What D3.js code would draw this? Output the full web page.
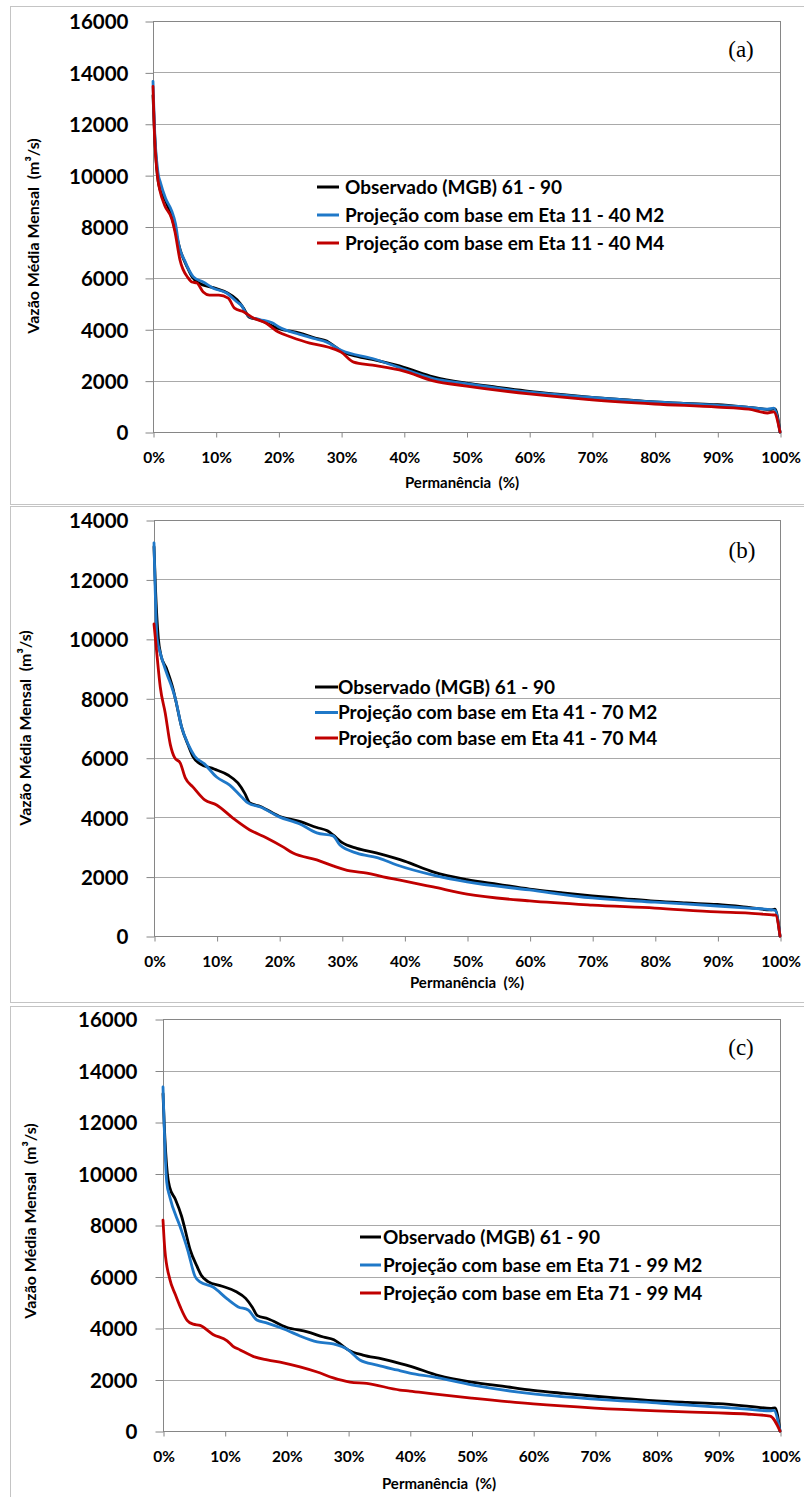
<!DOCTYPE html>
<html>
<head>
<meta charset="utf-8">
<title>Curvas de permanência</title>
<script src="https://cdn.jsdelivr.net/npm/d3@7"></script>
<style>
  body { margin: 0; background: #fff; }
  svg { display: block; }
  text { font-family: Lato, "Open Sans", sans-serif; font-weight: 700; fill: #000; white-space: pre; }
  .panelLabel { font-family: "Liberation Serif", "DejaVu Serif", serif; font-weight: 400; }
  .grid line { stroke: #a9a9a9; stroke-width: 1; }
  .axis path, .axis line { stroke: #868686; }
  .frame { fill: none; stroke: #c4c4c4; }
  .plotBorder { fill: none; stroke: #868686; }
  .serie { fill: none; stroke-width: 2.8; stroke-linejoin: round; stroke-linecap: round; }
</style>
</head>
<body>
<svg id="chart" width="804" height="1497"></svg>
<script>
// ---- data (permanência %, vazão m3/s) ----
// observed series is the same in all three panels
const observado = [[0,13100],[0.2,11900],[0.7,10000],[1.1,9450],[2,9000],[3,8350],[3.5,7900],[4.4,7040],
  [5.5,6400],[6.2,6050],[7.3,5800],[9.6,5620],[11.8,5420],[13.4,5150],[14.5,4800],[15.3,4480],[17,4360],
  [20,4030],[23.4,3850],[26,3650],[27.7,3540],[28.6,3400],[30,3150],[32.4,2950],[35.5,2800],[38.5,2620],
  [40,2520],[44.7,2150],[50,1900],[55,1740],[60,1580],[65,1460],[70,1350],[75,1260],[80,1170],[85,1110],
  [90,1060],[95,960],[98.5,880],[99.2,900],[100,0]];

const m2_1140 = [[0,13650],[0.2,12100],[0.8,10100],[1.2,9700],[2,9100],[3,8600],[3.6,8100],[4.1,7300],
  [5,6700],[6.4,6050],[8,5840],[9.6,5600],[11.8,5400],[13.4,5060],[14.2,4900],[14.7,4670],[15.5,4480],
  [17,4380],[19,4250],[20,4100],[23.4,3800],[26,3620],[27.7,3500],[30,3180],[35,2860],[39.4,2500],
  [44.7,2080],[50,1880],[60,1550],[70,1350],[80,1170],[90,1040],[95,960],[98,890],[99,930],[100,0]];
const m4_1140 = [[0,13450],[0.2,11800],[0.8,9800],[1.1,9400],[1.9,8800],[3,8300],[3.5,7800],[4.3,6700],
  [5.6,6000],[6.2,5840],[7,5800],[8,5450],[9,5330],[10.5,5330],[12,5210],[13,4820],[14.5,4670],[16,4440],
  [18,4240],[20,3890],[22,3700],[25,3460],[28,3300],[30,3110],[32,2720],[35,2600],[40,2370],[44.7,1990],
  [50,1790],[60,1480],[70,1250],[80,1090],[90,970],[95,890],[98,740],[99,780],[100,0]];

const m2_4170 = [[0,13230],[0.5,10000],[1,9530],[2,8860],[3,8280],[3.4,8000],[4.4,7040],[5.5,6430],
  [6.5,6050],[8,5800],[10,5350],[12.1,5080],[14,4680],[15,4480],[17,4340],[20,4010],[23.3,3770],[26,3470],
  [28.6,3370],[29.7,3060],[32.4,2790],[35.8,2630],[38.8,2390],[44.6,2050],[50,1820],[60,1550],[70,1280],
  [80,1140],[90,1010],[95,940],[98.7,880],[99.3,850],[100,0]];
const m4_4170 = [[0,10500],[0.5,9400],[1,8380],[1.8,7500],[2.6,6450],[3.3,6000],[4.2,5820],[5,5320],
  [6.2,5020],[8.1,4580],[10,4410],[12.6,3970],[15.3,3570],[18,3300],[20.6,3000],[22.2,2790],[26,2560],
  [28.6,2360],[31.3,2190],[34,2120],[36.6,1990],[39.3,1880],[44.6,1650],[50,1410],[60,1180],[70,1040],
  [80,940],[90,810],[95,770],[98.7,710],[99.3,700],[100,0]];

const m2_7199 = [[0,13360],[0.6,9670],[1.1,9090],[2.8,7920],[4,7030],[5.2,6000],[6,5790],[8.1,5590],
  [10.4,5130],[12.2,4820],[13.8,4700],[15.2,4310],[16.9,4190],[20,3920],[22.2,3690],[25,3460],[27.6,3380],
  [30,3150],[31.9,2760],[34.7,2560],[37.9,2370],[40,2250],[43.8,2100],[50,1790],[60,1440],[70,1240],
  [80,1090],[90,930],[94.6,850],[98.4,780],[99,800],[100,0]];
const m4_7199 = [[0,8190],[0.3,7030],[1.1,5900],[2,5300],[2.8,4820],[3.9,4300],[4.9,4150],[6,4100],
  [8.1,3750],[10.4,3500],[11.3,3300],[12.5,3150],[14.6,2900],[16.9,2760],[19.5,2650],[22.2,2490],[25,2290],
  [27.6,2060],[30.3,1900],[33,1850],[38.4,1590],[40,1550],[43.8,1440],[50,1280],[60,1050],[70,890],
  [80,780],[90,700],[94.6,660],[98.4,580],[100,0]];

const xTicks = [0, 10, 20, 30, 40, 50, 60, 70, 80, 90, 100];
const yTicks16 = [0, 2000, 4000, 6000, 8000, 10000, 12000, 14000, 16000];
const yTicks14 = [0, 2000, 4000, 6000, 8000, 10000, 12000, 14000];

const legendA = ["Observado (MGB) 61 - 90", "Projeção com base em Eta 11 - 40 M2", "Projeção com base em Eta 11 - 40 M4"];
const legendB = ["Observado (MGB) 61 - 90", "Projeção com base em Eta 41 - 70 M2", "Projeção com base em Eta 41 - 70 M4"];
const legendC = ["Observado (MGB) 61 - 90", "Projeção com base em Eta 71 - 99 M2", "Projeção com base em Eta 71 - 99 M4"];

const colours = ["#000000", "#1f78c8", "#c00000"];
const yTitle = "Vazão Média Mensal  (m³/s)";
const xTitle = "Permanência  (%)";

// ---- layout per panel ----
const panels = [
  { label: "(a)", series: [observado, m2_1140, m4_1140], legend: legendA, yTicks: yTicks16,
    frame: [10, 6, 820, 498], plot: { left: 153, top: 21, right: 780, bottom: 432 },
    yPad: 17, yTitle: [33, 236], xTitle: [462, 491], labelPos: [741, 57],
    leg: { x: 317, y: 187, gap: 28, len: 22, textX: 345 } },
  { label: "(b)", series: [observado, m2_4170, m4_4170], legend: legendB, yTicks: yTicks14,
    frame: [10, 506, 820, 496], plot: { left: 154, top: 520, right: 780, bottom: 936 },
    yPad: 18, yTitle: [25, 728], xTitle: [467, 991], labelPos: [742, 558],
    leg: { x: 315, y: 687, gap: 25.5, len: 23, textX: 338 } },
  { label: "(c)", series: [observado, m2_7199, m4_7199], legend: legendC, yTicks: yTicks16,
    frame: [10, 1006, 820, 520], plot: { left: 163, top: 1019, right: 780, bottom: 1431 },
    yPad: 18, yTitle: [30, 1221], xTitle: [439, 1492], labelPos: [741, 1055],
    leg: { x: 360, y: 1237, gap: 28, len: 21, textX: 383 } }
];

const svg = d3.select("#chart");
svg.append("rect").attr("width", 804).attr("height", 1497).attr("fill", "#fff");

panels.forEach(function(p) {
  const g = svg.append("g");
  g.append("rect").classed("frame", true)
    .attr("x", p.frame[0] + 0.5).attr("y", p.frame[1] + 0.5)
    .attr("width", p.frame[2]).attr("height", p.frame[3]);

  const x = d3.scaleLinear().domain([0, 100]).range([p.plot.left, p.plot.right]);
  const y = d3.scaleLinear().domain([0, d3.max(p.yTicks)]).range([p.plot.bottom, p.plot.top]);

  // gridlines
  g.append("g").classed("grid", true)
    .selectAll("line")
    .data(p.yTicks)
    .enter().append("line")
      .attr("x1", p.plot.left).attr("x2", p.plot.right)
      .attr("y1", function(d) { return Math.round(y(d)) + 0.5; })
      .attr("y2", function(d) { return Math.round(y(d)) + 0.5; });

  g.append("rect").classed("plotBorder", true)
    .attr("x", p.plot.left + 0.5).attr("y", p.plot.top + 0.5)
    .attr("width", p.plot.right - p.plot.left).attr("height", p.plot.bottom - p.plot.top);

  // axes
  const yAxis = g.append("g").classed("axis", true)
    .attr("transform", "translate(" + (p.plot.left + 0.5) + ",0.5)")
    .call(d3.axisLeft(y).tickValues(p.yTicks).tickSize(8).tickPadding(p.yPad).tickFormat(d3.format("d")));
  yAxis.selectAll("text").style("font-size", "20.5px").attr("dy", "0.36em");
  yAxis.select(".domain").remove();

  const xAxis = g.append("g").classed("axis", true)
    .attr("transform", "translate(0.5," + (p.plot.bottom + 0.5) + ")")
    .call(d3.axisBottom(x).tickValues(xTicks).tickSize(5).tickFormat(function(d) { return d + "%"; }));
  xAxis.selectAll("text").style("font-size", "15.5px").attr("y", 30).attr("dy", null);
  xAxis.select(".domain").attr("d", "M" + p.plot.left + ",0H" + p.plot.right);

  // curves
  const line = d3.line()
    .x(function(d) { return x(d[0]); })
    .y(function(d) { return y(d[1]); })
    .curve(d3.curveMonotoneX);
  g.selectAll(".serie")
    .data(p.series)
    .enter().append("path")
      .classed("serie", true)
      .attr("stroke", function(d, i) { return colours[i]; })
      .attr("d", line);

  // titles
  g.append("text")
    .attr("transform", "translate(" + p.yTitle[0] + "," + p.yTitle[1] + ") rotate(-90)")
    .attr("text-anchor", "middle").attr("dy", "0.35em")
    .style("font-size", "16px")
    .text(yTitle);
  g.append("text")
    .attr("x", p.xTitle[0]).attr("y", p.xTitle[1] - 3)
    .attr("text-anchor", "middle")
    .style("font-size", "15px")
    .text(xTitle);
  g.append("text").classed("panelLabel", true)
    .attr("x", p.labelPos[0]).attr("y", p.labelPos[1])
    .attr("text-anchor", "middle")
    .style("font-size", "23px")
    .text(p.label);

  // legend
  const leg = g.append("g").attr("transform", "translate(" + p.leg.x + "," + p.leg.y + ")");
  const rows = leg.selectAll("g")
    .data(p.legend)
    .enter().append("g")
      .attr("transform", function(d, i) { return "translate(0," + (i * p.leg.gap) + ")"; });
  rows.append("line")
    .attr("x1", 0).attr("x2", p.leg.len)
    .attr("stroke", function(d, i) { return colours[i]; })
    .attr("stroke-width", 3);
  rows.append("text")
    .attr("x", p.leg.textX - p.leg.x)
    .attr("dy", "0.35em")
    .style("font-size", "19px")
    .text(function(d) { return d; });
});
</script>
</body>
</html>
